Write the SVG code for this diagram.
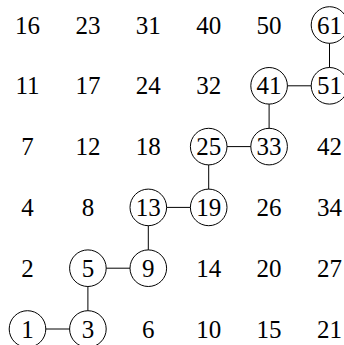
<svg xmlns="http://www.w3.org/2000/svg" width="344" height="345" viewBox="0 0 344 345">
<style>
text{font-family:'Liberation Serif',serif;font-size:25px;text-anchor:middle;fill:#000}
circle{fill:none;stroke:#000;stroke-width:1}
line{stroke:#000;stroke-width:1}
</style>
<rect width="344" height="345" fill="#fff"/>
<g id="connectors">
<line x1="329.5" y1="43.3" x2="329.5" y2="67.5"/>
<line x1="287.4" y1="85.8" x2="311.2" y2="85.8"/>
<line x1="269.1" y1="104.1" x2="269.1" y2="128.3"/>
<line x1="227" y1="146.6" x2="250.8" y2="146.6"/>
<line x1="208.7" y1="164.9" x2="208.7" y2="189.1"/>
<line x1="166.6" y1="207.4" x2="190.4" y2="207.4"/>
<line x1="148.3" y1="225.7" x2="148.3" y2="249.9"/>
<line x1="106.2" y1="268.2" x2="130" y2="268.2"/>
<line x1="87.9" y1="286.5" x2="87.9" y2="310.7"/>
<line x1="45.8" y1="329" x2="69.6" y2="329"/>
</g>
<g id="n16"><text x="27.5" y="33.5">16</text></g>
<g id="n23"><text x="87.9" y="33.5">23</text></g>
<g id="n31"><text x="148.3" y="33.5">31</text></g>
<g id="n40"><text x="208.7" y="33.5">40</text></g>
<g id="n50"><text x="269.1" y="33.5">50</text></g>
<g id="n61"><circle cx="329.5" cy="25" r="18.3"/><text x="329.5" y="33.5">61</text></g>
<g id="n11"><text x="27.5" y="94.3">11</text></g>
<g id="n17"><text x="87.9" y="94.3">17</text></g>
<g id="n24"><text x="148.3" y="94.3">24</text></g>
<g id="n32"><text x="208.7" y="94.3">32</text></g>
<g id="n41"><circle cx="269.1" cy="85.8" r="18.3"/><text x="269.1" y="94.3">41</text></g>
<g id="n51"><circle cx="329.5" cy="85.8" r="18.3"/><text x="329.5" y="94.3">51</text></g>
<g id="n7"><text x="27.5" y="155.1">7</text></g>
<g id="n12"><text x="87.9" y="155.1">12</text></g>
<g id="n18"><text x="148.3" y="155.1">18</text></g>
<g id="n25"><circle cx="208.7" cy="146.6" r="18.3"/><text x="208.7" y="155.1">25</text></g>
<g id="n33"><circle cx="269.1" cy="146.6" r="18.3"/><text x="269.1" y="155.1">33</text></g>
<g id="n42"><text x="329.5" y="155.1">42</text></g>
<g id="n4"><text x="27.5" y="215.9">4</text></g>
<g id="n8"><text x="87.9" y="215.9">8</text></g>
<g id="n13"><circle cx="148.3" cy="207.4" r="18.3"/><text x="148.3" y="215.9">13</text></g>
<g id="n19"><circle cx="208.7" cy="207.4" r="18.3"/><text x="208.7" y="215.9">19</text></g>
<g id="n26"><text x="269.1" y="215.9">26</text></g>
<g id="n34"><text x="329.5" y="215.9">34</text></g>
<g id="n2"><text x="27.5" y="276.7">2</text></g>
<g id="n5"><circle cx="87.9" cy="268.2" r="18.3"/><text x="87.9" y="276.7">5</text></g>
<g id="n9"><circle cx="148.3" cy="268.2" r="18.3"/><text x="148.3" y="276.7">9</text></g>
<g id="n14"><text x="208.7" y="276.7">14</text></g>
<g id="n20"><text x="269.1" y="276.7">20</text></g>
<g id="n27"><text x="329.5" y="276.7">27</text></g>
<g id="n1"><circle cx="27.5" cy="329" r="18.3"/><text x="27.5" y="337.5">1</text></g>
<g id="n3"><circle cx="87.9" cy="329" r="18.3"/><text x="87.9" y="337.5">3</text></g>
<g id="n6"><text x="148.3" y="337.5">6</text></g>
<g id="n10"><text x="208.7" y="337.5">10</text></g>
<g id="n15"><text x="269.1" y="337.5">15</text></g>
<g id="n21"><text x="329.5" y="337.5">21</text></g>
</svg>
